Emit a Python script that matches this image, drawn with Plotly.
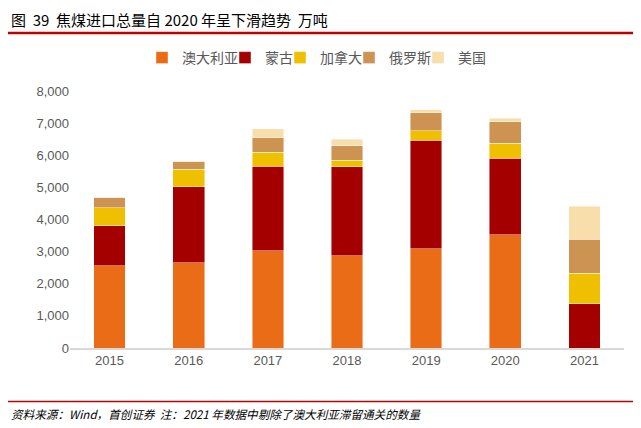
import plotly.graph_objects as go

years = ["2015", "2016", "2017", "2018", "2019", "2020", "2021"]
australia = [2556, 2660, 3030, 2866, 3084, 3528, 0]
mongolia = [1242, 2360, 2630, 2774, 3385, 2382, 1385]
canada = [568, 540, 426, 208, 289, 466, 944]
russia = [323, 258, 453, 444, 559, 674, 1056]
usa = [0, 0, 292, 208, 105, 102, 1034]

series_names = ["澳大利亚", "蒙古", "加拿大", "俄罗斯", "美国"]
series_values = [australia, mongolia, canada, russia, usa]
series_colors = ["#EA6C17", "#A50000", "#EEC000", "#CD9353", "#F7DEAA"]

title_text = "图  39  焦煤进口总量自 2020 年呈下滑趋势  万吨"
footer_text = "<i>资料来源：Wind，首创证券  注：2021 年数据中剔除了澳大利亚滞留通关的数量</i>"

# page body has an 8px margin; work in reference pixel coords and shift
OFF = 8
W, H = 641 - OFF, 428 - OFF
L, R, T, B = 70 - OFF, 17, 91 - OFF, 428 - 348
pw, ph = W - L - R, H - T - B

def px(x):
    return (x - OFF - L) / pw

def py(y):
    return (H - B - (y - OFF)) / ph

cjk = "Noto Sans CJK SC"

# reference x where each legend text starts
legend_text_x = [182, 265, 320, 389, 458]

fig = go.Figure()
legend_layouts = {}
for i, (name, vals, col) in enumerate(zip(series_names, series_values, series_colors)):
    lname = "legend" if i == 0 else f"legend{i + 1}"
    fig.add_trace(go.Bar(
        x=years, y=vals, name=name, legend=lname,
        marker=dict(color=col, line=dict(color="rgba(255,255,255,0.55)", width=0.8)),
    ))
    legend_layouts[lname] = dict(
        orientation="h", x=px(legend_text_x[i] - 40), xanchor="left",
        y=py(58), yanchor="middle", bgcolor="rgba(0,0,0,0)",
        font=dict(family=cjk, size=14, color="#595959"),
        itemwidth=30,
    )

fig.update_layout(
    width=W, height=H,
    margin=dict(l=L, r=R, t=T, b=B),
    barmode="stack",
    bargap=0.6,
    plot_bgcolor="white",
    paper_bgcolor="white",
    font=dict(family="Liberation Sans, " + cjk, size=13, color="#595959"),
    showlegend=True,
    xaxis=dict(
        showline=True, linecolor="#D9D9D9", linewidth=1.5,
        showgrid=False, ticks="", tickfont=dict(size=13, color="#595959"),
    ),
    yaxis=dict(
        range=[0, 8000], dtick=1000, tickformat=",d",
        showgrid=False, zeroline=False, showline=False, ticks="",
        tickfont=dict(size=13, color="#595959"),
    ),
    annotations=[
        dict(text=title_text, xref="paper", yref="paper", x=px(9), y=py(19.5),
             xanchor="left", yanchor="middle", showarrow=False,
             font=dict(family=cjk, size=15, color="#000000")),
        dict(text=footer_text, xref="paper", yref="paper", x=px(9), y=py(414),
             xanchor="left", yanchor="middle", showarrow=False,
             font=dict(family=cjk, size=11.6, color="#000000")),
    ],
    shapes=[
        dict(type="line", xref="paper", yref="paper", x0=px(OFF), x1=px(641),
             y0=py(33), y1=py(33), line=dict(color="#C00000", width=2.5)),
        dict(type="line", xref="paper", yref="paper", x0=px(OFF), x1=px(641),
             y0=py(401.5), y1=py(401.5), line=dict(color="#C00000", width=1.5)),
    ],
    **legend_layouts,
)

fig.write_html("out.html")
